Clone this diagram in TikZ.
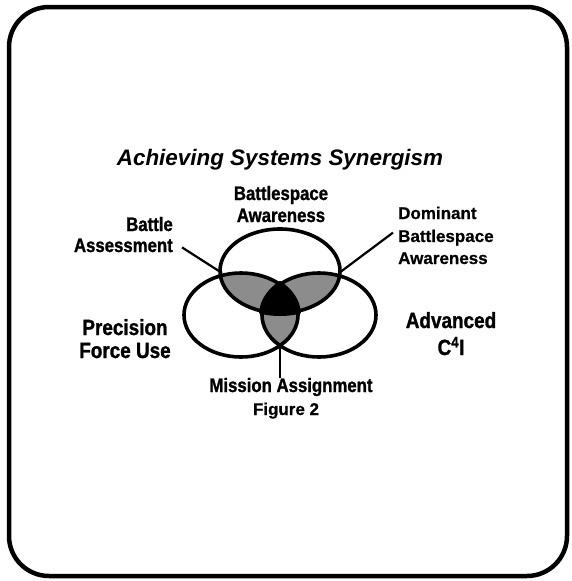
\documentclass[tikz,border=0pt]{standalone}
\usepackage{fontspec}
\setmainfont{Liberation Sans}
\newfontfamily\heavyfont[FakeBold=1.2, FakeStretch=0.86]{Liberation Sans Bold}
\newfontfamily\medfont[FakeBold=0.6]{Liberation Sans Bold}
\begin{document}
\begin{tikzpicture}[x=1pt,y=-1pt,
  lbl/.style={font=\fontsize{19.5}{22}\heavyfont, inner sep=0pt},
  med/.style={font=\fontsize{17}{20}\medfont, inner sep=0pt},
  big/.style={font=\fontsize{22}{26}\heavyfont, inner sep=0pt},
  ring/.style={draw=black, line width=3.6pt},
  lead/.style={draw=black, line width=2.2pt},
  lens/.style={fill=black!45}]
\useasboundingbox (0,0) rectangle (571,581);
\draw[line width=4.5pt, rounded corners=40pt] (9,7) rectangle (567,576);
\def\Etop{(280,271) ellipse [x radius=60pt, y radius=42pt]}
\def\Eleft{(241,315) ellipse [x radius=57pt, y radius=42pt]}
\def\Eright{(319,315) ellipse [x radius=57pt, y radius=42pt]}
% lens fills
\begin{scope}\clip \Etop; \fill[lens] \Eleft; \end{scope}
\begin{scope}\clip \Etop; \fill[lens] \Eright; \end{scope}
\begin{scope}\clip \Eleft; \fill[lens] \Eright; \end{scope}
\begin{scope}
  \clip (280,271) ellipse [x radius=63pt, y radius=45pt];
  \clip (241,315) ellipse [x radius=60pt, y radius=45pt];
  \fill[black] (319,315) ellipse [x radius=60pt, y radius=45pt];
\end{scope}
% outlines
\draw[ring] \Etop;
\draw[ring] \Eleft;
\draw[ring] \Eright;
% texts
\node[font=\fontsize{22.4}{26}\selectfont\bfseries\itshape, inner sep=0pt, anchor=base] (title) at (280,165) {Achieving Systems Synergism};
\node[lbl, anchor=base] (bs1) at (281,200) {Battlespace};
\node[lbl, anchor=base] (bs2) at (281,222) {Awareness};
\node[lbl, anchor=base east] (ba1) at (173,231) {Battle};
\node[lbl, anchor=base east] (ba2) at (173,252) {Assessment};
\node[med, anchor=base west] (db1) at (398,219) {Dominant};
\node[med, anchor=base west] (db2) at (398,242) {Battlespace};
\node[med, anchor=base west] (db3) at (398,264) {Awareness};
\node[big, anchor=base] (ad1) at (451,328) {Advanced};
\node[big, anchor=base] (ad2) at (451,355) {C\textsuperscript{4}I};
\node[big, anchor=base] (pf1) at (125,335) {Precision};
\node[big, anchor=base] (pf2) at (125,358) {Force Use};
\node[lbl, anchor=base] (ma) at (291,392) {Mission Assignment};
\node[med, anchor=base] (fig) at (286,415) {Figure 2};
% leader lines
\coordinate (pBA) at (222,273);
\coordinate (pDB) at (339,273);
\coordinate (pMA) at (280,345);
\draw[lead] ([xshift=9pt,yshift=-2pt]ba2.east) -- (pBA);
\draw[lead] ([xshift=-5pt,yshift=5pt]db2.west) -- (pDB);
\draw[lead] (pMA) -- (pMA |- ma.north) ++(0,-5);
\end{tikzpicture}
\end{document}
